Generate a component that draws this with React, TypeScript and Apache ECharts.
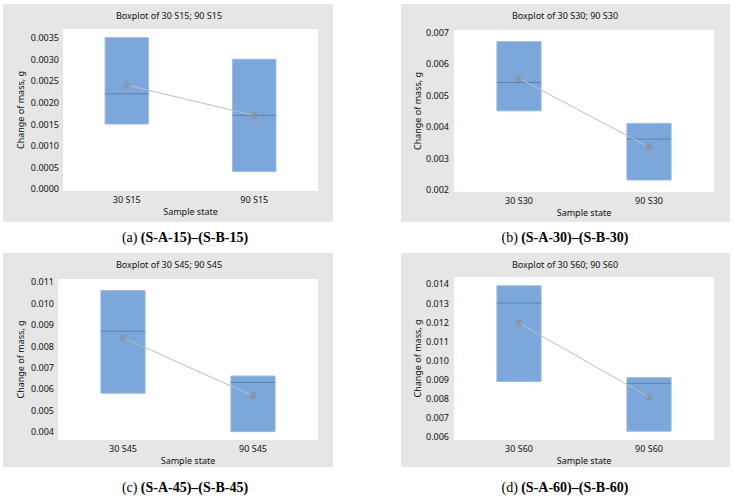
import React, { useEffect, useRef } from "react";
import * as echarts from "echarts";

// Quartile boxes (Q1, median, Q3) and means of the mass change, grams
const catsA = ["30 S15", "90 S15"];
const q1A = [0.0015, 0.0004];
const medA = [0.0022, 0.0017];
const q3A = [0.0035, 0.003];
const meanA = [0.0024, 0.0017];
const ticksA = [0, 0.0005, 0.001, 0.0015, 0.002, 0.0025, 0.003, 0.0035];

const catsB = ["30 S30", "90 S30"];
const q1B = [0.0045, 0.0023];
const medB = [0.0054, 0.0036];
const q3B = [0.0067, 0.0041];
const meanB = [0.00553, 0.00335];
const ticksB = [0.002, 0.003, 0.004, 0.005, 0.006, 0.007];

const catsC = ["30 S45", "90 S45"];
const q1C = [0.0058, 0.004];
const medC = [0.0087, 0.0063];
const q3C = [0.0106, 0.0066];
const meanC = [0.0084, 0.00567];
const ticksC = [0.004, 0.005, 0.006, 0.007, 0.008, 0.009, 0.01, 0.011];

const catsD = ["30 S60", "90 S60"];
const q1D = [0.0089, 0.0063];
const medD = [0.013, 0.0088];
const q3D = [0.0139, 0.0091];
const meanD = [0.01195, 0.00808];
const ticksD = [0.006, 0.007, 0.008, 0.009, 0.01, 0.011, 0.012, 0.013, 0.014];

const titles = [
  "Boxplot of 30 S15; 90 S15",
  "Boxplot of 30 S30; 90 S30",
  "Boxplot of 30 S45; 90 S45",
  "Boxplot of 30 S60; 90 S60",
];
const captionLetters = ["(a)", "(b)", "(c)", "(d)"];
const captionPairs = [
  "(S-A-15)–(S-B-15)",
  "(S-A-30)–(S-B-30)",
  "(S-A-45)–(S-B-45)",
  "(S-A-60)–(S-B-60)",
];
const yAxisTitle = "Change of mass, g";
const xAxisTitle = "Sample state";

const FONT = "'Noto Sans', 'Open Sans', sans-serif";
const SERIF = "'Liberation Serif', 'DejaVu Serif', serif";
const INK = "#111111";

// Page geometry of each panel: grey frame, white plot area, axis ranges
const layout = [
  { bg: [3, 4, 330, 218], grid: [63, 29, 255, 162], yMin: -0.00005, yMax: 0.0037, dec: 4, nameGap: 38, labelMargin: 4, titleX: 169, titleY: 11, capX: 185, capY: 237 },
  { bg: [401, 4, 329, 218], grid: [454, 30, 260, 162], yMin: 0.00192, yMax: 0.00707, dec: 3, nameGap: 31, labelMargin: 5, titleX: 565, titleY: 11, capX: 565, capY: 237 },
  { bg: [3, 253, 330, 214], grid: [58, 279, 260, 161], yMin: 0.00361, yMax: 0.01114, dec: 3, nameGap: 33, labelMargin: 4, titleX: 169, titleY: 260, capX: 185, capY: 487 },
  { bg: [401, 253, 329, 214], grid: [454, 277, 260, 163], yMin: 0.00584, yMax: 0.01436, dec: 3, nameGap: 32, labelMargin: 5, titleX: 565, titleY: 260, capX: 565, capY: 487 },
];

const panels = [
  { cats: catsA, q1: q1A, med: medA, q3: q3A, mean: meanA, ticks: ticksA },
  { cats: catsB, q1: q1B, med: medB, q3: q3B, mean: meanB, ticks: ticksB },
  { cats: catsC, q1: q1C, med: medC, q3: q3C, mean: meanC, ticks: ticksC },
  { cats: catsD, q1: q1D, med: medD, q3: q3D, mean: meanD, ticks: ticksD },
];

// Circle with a cross, the mean marker
const MEAN_SYMBOL =
  "path://M0,10A10,10 0 1 1 20,10A10,10 0 1 1 0,10Z M0,10L20,10 M10,0L10,20";

function renderBox(params: any, api: any) {
  const x = api.value(0);
  const lo = api.coord([x, api.value(1)]);
  const med = api.coord([x, api.value(2)]);
  const hi = api.coord([x, api.value(3)]);
  const bw = api.size([1, 0])[0] * 0.34;
  return {
    type: "group",
    children: [
      {
        type: "rect",
        shape: { x: lo[0] - bw / 2, y: hi[1], width: bw, height: lo[1] - hi[1] },
        style: { fill: "#7BA7DB", stroke: "#9CB9DE", lineWidth: 1 },
      },
      {
        type: "line",
        shape: { x1: lo[0] - bw / 2, y1: med[1], x2: lo[0] + bw / 2, y2: med[1] },
        style: { stroke: "#5B80B3", lineWidth: 1 },
      },
    ],
  };
}

export default function App() {
  const ref = useRef<HTMLDivElement>(null);

  useEffect(() => {
    document.body.style.margin = "0";
    if (!ref.current) return;
    const chart = echarts.init(ref.current, null, { renderer: "svg" });

    const grid: any[] = [];
    const xAxis: any[] = [];
    const yAxis: any[] = [];
    const series: any[] = [];
    const title: any[] = [];
    const graphic: any[] = [];

    panels.forEach((p, i) => {
      const L = layout[i];
      graphic.push({
        type: "rect",
        z: -10,
        shape: { x: L.bg[0], y: L.bg[1], width: L.bg[2], height: L.bg[3] },
        style: { fill: "#E6E6E6" },
        silent: true,
      });
      grid.push({
        left: L.grid[0],
        top: L.grid[1],
        width: L.grid[2],
        height: L.grid[3],
        show: true,
        backgroundColor: "#FFFFFF",
        borderWidth: 0,
      });
      xAxis.push({
        type: "category",
        gridIndex: i,
        data: p.cats,
        boundaryGap: true,
        axisLine: { show: false },
        axisTick: { show: false },
        axisLabel: { fontFamily: FONT, fontSize: 9, color: INK, margin: 4 },
        name: xAxisTitle,
        nameLocation: "middle",
        nameGap: 16,
        nameTextStyle: { fontFamily: FONT, fontSize: 9, color: INK },
      });
      yAxis.push({
        type: "value",
        gridIndex: i,
        min: L.yMin,
        max: L.yMax,
        axisLine: { show: false },
        axisTick: { show: false, customValues: p.ticks },
        splitLine: { show: false },
        axisLabel: {
          customValues: p.ticks,
          fontFamily: FONT,
          fontSize: 9,
          color: INK,
          margin: L.labelMargin,
          formatter: (v: number) => v.toFixed(L.dec),
        },
        name: yAxisTitle,
        nameLocation: "middle",
        nameGap: L.nameGap,
        nameTextStyle: { fontFamily: FONT, fontSize: 9, color: INK },
      });
      series.push({
        type: "custom",
        xAxisIndex: i,
        yAxisIndex: i,
        renderItem: renderBox,
        encode: { x: 0, y: [1, 2, 3] },
        data: p.cats.map((_, k) => [k, p.q1[k], p.med[k], p.q3[k]]),
        z: 2,
      });
      series.push({
        type: "line",
        xAxisIndex: i,
        yAxisIndex: i,
        data: p.mean,
        symbol: MEAN_SYMBOL,
        symbolSize: 6,
        showSymbol: true,
        lineStyle: { color: "#BDBDBD", width: 1 },
        itemStyle: { color: "transparent", borderColor: "#8C8C8C", borderWidth: 0.8 },
        z: 3,
      });
      title.push({
        text: titles[i],
        left: L.titleX,
        top: L.titleY,
        textAlign: "center",
        padding: 0,
        textStyle: { fontFamily: FONT, fontSize: 9, fontWeight: "normal", color: INK },
      });
      graphic.push({
        type: "text",
        x: L.capX,
        y: L.capY,
        style: {
          text: `{r|${captionLetters[i]}} {b|${captionPairs[i]}}`,
          align: "center",
          verticalAlign: "middle",
          rich: {
            r: { fontFamily: SERIF, fontSize: 14, color: "#111" },
            b: { fontFamily: SERIF, fontSize: 14, fontWeight: "bold", color: "#111" },
          },
        },
      });
    });

    chart.setOption({
      animation: false,
      backgroundColor: "#FFFFFF",
      title,
      grid,
      xAxis,
      yAxis,
      series,
      graphic,
    });

    return () => chart.dispose();
  }, []);

  return <div ref={ref} style={{ width: 734, height: 500 }} />;
}
